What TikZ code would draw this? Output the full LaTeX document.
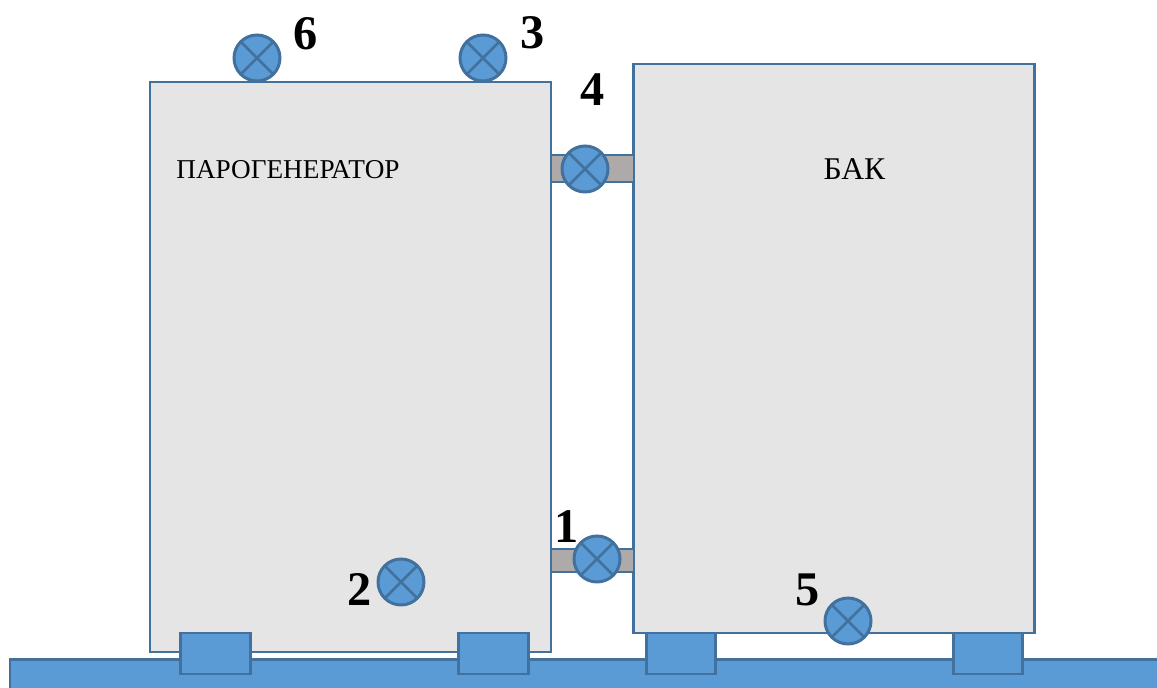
\documentclass[tikz,border=0pt]{standalone}
\usepackage{fontspec}
\setmainfont{Liberation Serif}
\usepackage{tikz}
\definecolor{edgeblue}{HTML}{41719C}
\definecolor{fillblue}{HTML}{5B9BD5}
\definecolor{tankgray}{HTML}{E5E5E5}
\definecolor{pipegray}{HTML}{AEAAAA}
\tikzset{
  box/.style={draw=edgeblue,line width=1.5pt,rectangle,inner sep=0pt,outer sep=0pt},
  tank/.style={box,fill=tankgray,minimum width=8.02cm},
  pipe/.style={box,fill=pipegray,minimum width=1.66cm},
  foot/.style={box,fill=fillblue,minimum width=1.39cm,minimum height=0.82cm},
  valve/.style={circle,draw=edgeblue,line width=1.7pt,fill=fillblue,minimum size=0.92cm,inner sep=0pt,outer sep=0pt,
    path picture={
      \draw[edgeblue,line width=1.5pt] (path picture bounding box.north west)--(path picture bounding box.south east);
      \draw[edgeblue,line width=1.5pt] (path picture bounding box.north east)--(path picture bounding box.south west);
    }},
  num/.style={font=\bfseries\fontsize{27.5}{28}\selectfont,inner sep=0pt},
  caption/.style={font=\fontsize{15.5}{17}\selectfont,inner sep=0pt},
}
\begin{document}
\begin{tikzpicture}[x=0.02cm,y=-0.02cm]
\path[use as bounding box,clip] (0,0) rectangle (1157,688);
\fill[white] (0,0) rectangle (1157,688);
% base
\node[box,fill=fillblue,minimum width=23.2cm,minimum height=0.64cm] (base) at (590,675.5) {};
% tanks
\node[tank,minimum height=11.4cm] (generator) at (350.5,367) {};
\node[tank,minimum height=11.38cm] (vessel) at (834,348.5) {};
% pipes
\node[pipe,minimum height=0.54cm] (pipeup) at (592.5,168.5) {};
\node[pipe,minimum height=0.46cm] (pipedown) at (592.5,560.5) {};
% feet
\node[foot] (foota) at (215.5,653.5) {};
\node[foot] (footb) at (493.5,653.5) {};
\node[foot] (footc) at (681,653.5) {};
\node[foot] (footd) at (988,653.5) {};
% valves
\node[valve] (valvesix) at (257,58) {};
\node[valve] (valvethree) at (483,58) {};
\node[valve] (valvefour) at (585,169) {};
\node[valve] (valveone) at (597,559) {};
\node[valve] (valvetwo) at (401,582) {};
\node[valve] (valvefive) at (848,621) {};
% labels
\node[num] (labelsix) at (306,34) {6};
\node[num] (labelthree) at (533,33) {3};
\node[num] (labelfour) at (593,90) {4};
\node[num] (labelone) at (567,527) {1};
\node[num] (labeltwo) at (360,590) {2};
\node[num] (labelfive) at (808,590) {5};
\node[caption] (captiongen) at (288,170) {ПАРОГЕНЕРАТОР};
\node[caption,font=\fontsize{18}{20}\selectfont] (captionbak) at (854.5,169) {БАК};
\end{tikzpicture}
\end{document}
